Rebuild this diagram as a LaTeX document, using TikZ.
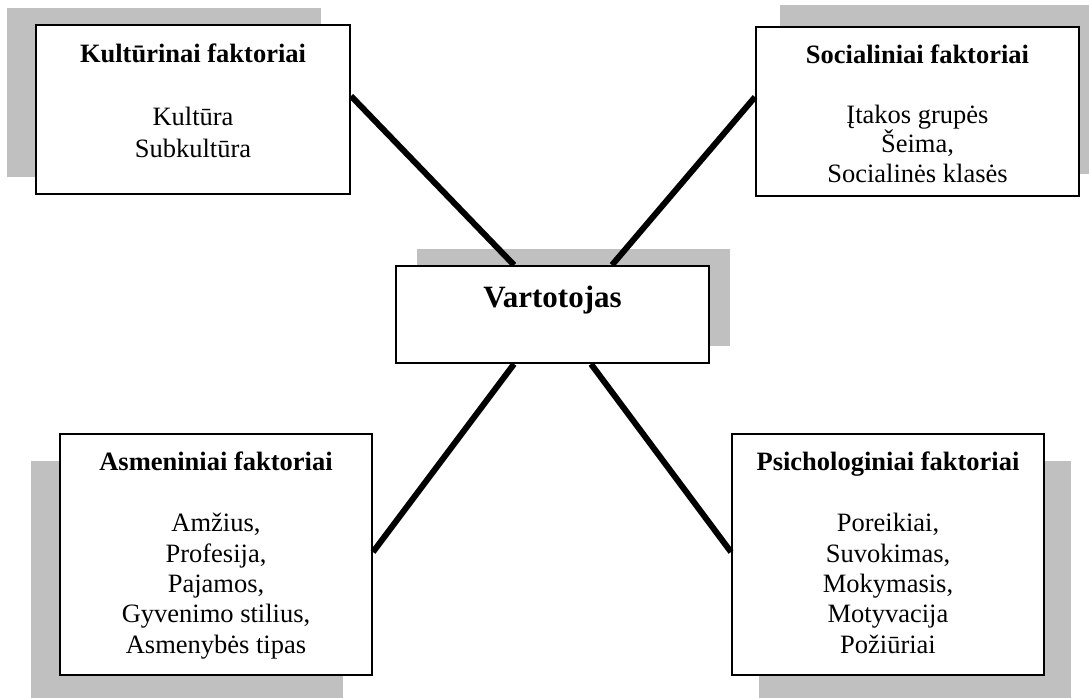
\documentclass[tikz,border=0pt]{standalone}
\usepackage{fontspec}
\setmainfont{Liberation Serif}
\usetikzlibrary{calc}
\definecolor{shade}{RGB}{192,192,192}
\tikzset{
  card/.style={draw=black, line width=2pt, fill=white, inner sep=0pt},
  shadow/.style={fill=shade, draw=none, inner sep=0pt},
  head/.style={anchor=base, inner sep=0pt, font=\bfseries\fontsize{26.5}{31}\selectfont},
  body/.style={anchor=base, inner sep=0pt, align=center, font=\fontsize{26.5}{32}\selectfont},
  link/.style={line width=6pt, line cap=butt},
}
\begin{document}
\begin{tikzpicture}[x=1pt,y=-1pt]
\useasboundingbox (0,0) rectangle (1089,697);
% grey shadows behind the boxes
\node[shadow, minimum width=314pt, minimum height=169pt] (kS) at (164,92.5) {};
\node[shadow, minimum width=323pt, minimum height=169pt] (sS) at (941.5,89.5) {};
\node[shadow, minimum width=313pt, minimum height=97pt]  (cS) at (573.5,297.5) {};
\node[shadow, minimum width=312pt, minimum height=241pt] (aS) at (187,581.5) {};
\node[shadow, minimum width=312pt, minimum height=241pt] (pS) at (915,581.5) {};
% boxes
\node[card, minimum width=314pt, minimum height=169pt] (k) at (193,109.5) {};
\node[card, minimum width=323pt, minimum height=169pt] (s) at (917.5,111.5) {};
\node[card, minimum width=313pt, minimum height=97pt]  (c) at (552.5,314.5) {};
\node[card, minimum width=312pt, minimum height=241pt] (a) at (216,554.5) {};
\node[card, minimum width=312pt, minimum height=241pt] (p) at (888,554.5) {};
% connectors
\coordinate (k1) at ($(k.north east)+(0,72)$);
\coordinate (s1) at ($(s.north west)+(0,71)$);
\coordinate (a1) at ($(a.north east)+(0,119)$);
\coordinate (p1) at ($(p.north west)+(0,119)$);
\coordinate (c1) at ($(c.north west)+(119,0)$);
\coordinate (c2) at ($(c.north west)+(217,0)$);
\coordinate (c3) at ($(c.south west)+(119,0)$);
\coordinate (c4) at ($(c.south west)+(196,0)$);
\draw[link] (k1) -- (c1);
\draw[link] (s1) -- (c2);
\draw[link] (a1) -- (c3);
\draw[link] (p1) -- (c4);
% texts (multi-line bodies are placed by the baseline of their last line)
\node[head] (kT) at (193,62) {Kultūrinai faktoriai};
\node[body] (kB) at (193,157) {Kultūra\\Subkultūra};
\node[head] (sT) at (917.5,63) {Socialiniai faktoriai};
\node[body, font=\fontsize{26.5}{29.5}\selectfont] (sB) at (917.5,182) {Įtakos grupės\\Šeima,\\Socialinės klasės};
\node[head, font=\bfseries\fontsize{31}{36}\selectfont] (cT) at (552.5,307) {Vartotojas};
\node[head] (aT) at (216,470) {Asmeniniai faktoriai};
\node[body, font=\fontsize{26.5}{30.3}\selectfont] (aB) at (216,653) {Amžius,\\Profesija,\\Pajamos,\\Gyvenimo stilius,\\Asmenybės tipas};
\node[head] (pT) at (888,470) {Psichologiniai faktoriai};
\node[body, font=\fontsize{26.5}{30.3}\selectfont] (pB) at (888,653) {Poreikiai,\\Suvokimas,\\Mokymasis,\\Motyvacija\\Požiūriai};
\end{tikzpicture}
\end{document}
